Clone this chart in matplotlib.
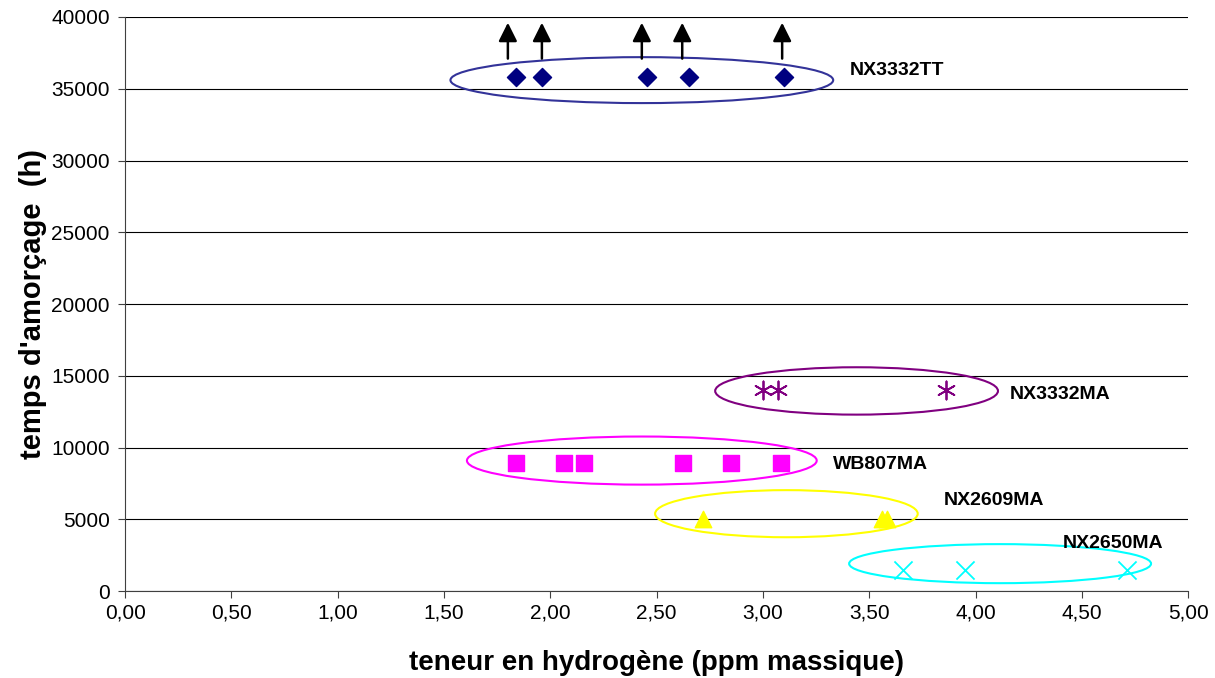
import matplotlib.pyplot as plt
from matplotlib.patches import Ellipse
from matplotlib.ticker import FuncFormatter

plt.rcParams['font.family'] = ['Liberation Sans', 'DejaVu Sans']

# Données
tt_x = [1.84, 1.96, 2.455, 2.65, 3.10]
tt_y = [35800, 35800, 35800, 35800, 35800]
arrow_x = [1.80, 1.96, 2.43, 2.62, 3.09]
arrow_y0 = [37100, 37100, 37100, 37100, 37100]
arrow_y1 = [39600, 39600, 39600, 39600, 39600]

nx3332ma_x = [3.00, 3.07, 3.86]
nx3332ma_y = [14000, 14000, 14000]

wb807_x = [1.84, 2.065, 2.16, 2.625, 2.85, 3.085]
wb807_y = [8900, 8900, 8900, 8900, 8900, 8900]

nx2609_x = [2.72, 3.56, 3.585]
nx2609_y = [5000, 5000, 5000]

nx2650_x = [3.66, 3.95, 4.71]
nx2650_y = [1500, 1500, 1500]

# ellipses : centre x, centre y, largeur, hauteur
ell_tt = (2.43, 35600, 1.80, 3200)
ell_3332ma = (3.44, 13950, 1.33, 3300)
ell_wb = (2.43, 9100, 1.645, 3350)
ell_2609 = (3.11, 5400, 1.235, 3280)
ell_2650 = (4.115, 1920, 1.42, 2720)

fig = plt.figure(figsize=(12.15, 6.78), dpi=100)
ax = fig.add_axes([0.103, 0.128, 0.875, 0.847])

ax.set_xlim(0, 5)
ax.set_ylim(0, 40000)
ax.set_xticks([i * 0.5 for i in range(11)])
ax.set_yticks(range(0, 40001, 5000))
ax.xaxis.set_major_formatter(FuncFormatter(lambda v, p: f"{v:.2f}".replace('.', ',')))
ax.yaxis.grid(True, color='black', linewidth=0.8)
ax.set_axisbelow(True)
for s in ['top', 'right']:
    ax.spines[s].set_visible(False)
ax.spines['left'].set_color('#404040')
ax.spines['bottom'].set_color('#404040')
ax.tick_params(direction='out', length=5, labelsize=15, color='#404040')
ax.tick_params(axis='y', pad=6)

# ellipses
for (cx, cy, w, h), col in [(ell_tt, '#333399'), (ell_3332ma, '#800080'), (ell_wb, '#ff00ff'),
                            (ell_2609, '#ffff00'), (ell_2650, '#00ffff')]:
    ax.add_patch(Ellipse((cx, cy), w, h, fill=False, edgecolor=col, linewidth=1.5, zorder=2))

# points
ax.scatter(tt_x, tt_y, marker='D', s=85, color='#000080', zorder=3)
ax.scatter(nx3332ma_x, nx3332ma_y, marker=(6, 2, 0), s=170, color='#800080', linewidths=1.3, zorder=3)
ax.scatter(wb807_x, wb807_y, marker='s', s=140, color='#ff00ff', zorder=3)
ax.scatter(nx2609_x, nx2609_y, marker='^', s=140, color='#ffff00', zorder=3)
ax.scatter(nx2650_x, nx2650_y, marker='x', s=170, color='#00ffff', linewidths=1.3, zorder=3)

# flèches
for x, y0, y1 in zip(arrow_x, arrow_y0, arrow_y1):
    ax.annotate('', xy=(x, y1), xytext=(x, y0),
                arrowprops=dict(arrowstyle='-|>', color='black', lw=1.8, mutation_scale=28,
                                shrinkA=0, shrinkB=0), zorder=4)

# étiquettes
lab = dict(fontsize=14, fontweight='bold', va='center')
ax.text(3.41, 36300, 'NX3332TT', **lab)
ax.text(4.16, 13700, 'NX3332MA', **lab)
ax.text(3.33, 8800, 'WB807MA', **lab)
ax.text(3.85, 6300, 'NX2609MA', **lab)
ax.text(4.41, 3350, 'NX2650MA', **lab)

ax.set_xlabel('teneur en hydrogène (ppm massique)', fontsize=20, fontweight='bold', labelpad=20)
ax.set_ylabel("temps d'amorçage  (h)", fontsize=21, fontweight='bold', labelpad=3)

fig.savefig('out.png', dpi=100)
